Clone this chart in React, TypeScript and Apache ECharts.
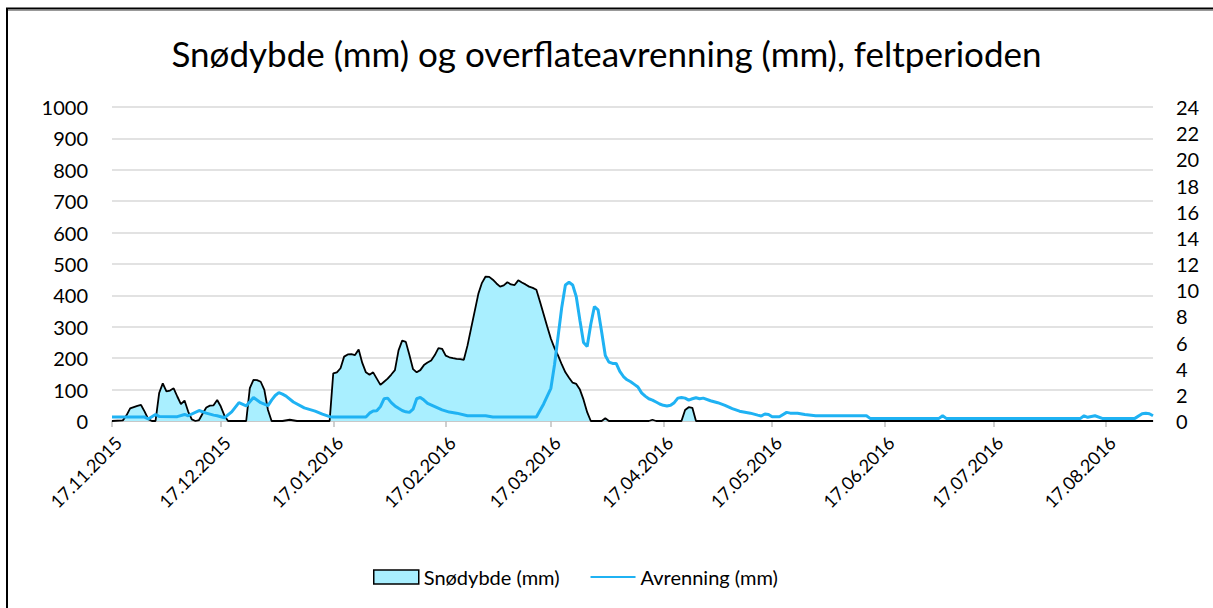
import React, { useEffect, useRef } from "react";
import * as echarts from "echarts";

const TITLE = "Snødybde (mm) og overflateavrenning (mm), feltperioden";
const SNOW_NAME = "Snødybde (mm)";
const RUNOFF_NAME = "Avrenning (mm)";

const FIRST_DAY = "17.11.2015";
const LAST_DAY = "30.08.2016";

const leftTicks = { min: 0, max: 1000, interval: 100 };
const rightTicks = { min: 0, max: 24, interval: 2 };

const snowDepth: [string, number][] = [
  ["17.11.2015", 0], ["20.11.2015", 2], ["21.11.2015", 18], ["22.11.2015", 40], ["24.11.2015", 48],
  ["25.11.2015", 51], ["26.11.2015", 30], ["27.11.2015", 6], ["28.11.2015", 0], ["29.11.2015", 0],
  ["30.11.2015", 89], ["01.12.2015", 120], ["02.12.2015", 94], ["03.12.2015", 97], ["04.12.2015", 104],
  ["05.12.2015", 78], ["06.12.2015", 54], ["07.12.2015", 65], ["08.12.2015", 30], ["09.12.2015", 5],
  ["10.12.2015", 0], ["11.12.2015", 3], ["12.12.2015", 24], ["13.12.2015", 43], ["14.12.2015", 49],
  ["15.12.2015", 50], ["16.12.2015", 67], ["17.12.2015", 46], ["18.12.2015", 17], ["19.12.2015", 0],
  ["24.12.2015", 0], ["25.12.2015", 105], ["26.12.2015", 131], ["27.12.2015", 130], ["28.12.2015", 125],
  ["29.12.2015", 99], ["30.12.2015", 35], ["31.12.2015", 0], ["03.01.2016", 0], ["05.01.2016", 4],
  ["07.01.2016", 0], ["16.01.2016", 0], ["17.01.2016", 152], ["18.01.2016", 155], ["19.01.2016", 168],
  ["20.01.2016", 205], ["21.01.2016", 212], ["22.01.2016", 213], ["23.01.2016", 210], ["24.01.2016", 228],
  ["25.01.2016", 185], ["26.01.2016", 155], ["27.01.2016", 147], ["28.01.2016", 155], ["29.01.2016", 135],
  ["30.01.2016", 115], ["31.01.2016", 125], ["01.02.2016", 135], ["02.02.2016", 148], ["03.02.2016", 162],
  ["04.02.2016", 225], ["05.02.2016", 256], ["06.02.2016", 252], ["07.02.2016", 210], ["08.02.2016", 165],
  ["09.02.2016", 155], ["10.02.2016", 162], ["11.02.2016", 178], ["12.02.2016", 186], ["13.02.2016", 193],
  ["14.02.2016", 210], ["15.02.2016", 232], ["16.02.2016", 230], ["17.02.2016", 208], ["18.02.2016", 203],
  ["19.02.2016", 200], ["20.02.2016", 198], ["21.02.2016", 197], ["22.02.2016", 195], ["23.02.2016", 240],
  ["24.02.2016", 295], ["25.02.2016", 350], ["26.02.2016", 405], ["27.02.2016", 440], ["28.02.2016", 460],
  ["29.02.2016", 459], ["01.03.2016", 450], ["02.03.2016", 438], ["03.03.2016", 428], ["04.03.2016", 432],
  ["05.03.2016", 442], ["06.03.2016", 435], ["07.03.2016", 433], ["08.03.2016", 448], ["09.03.2016", 441],
  ["10.03.2016", 435], ["11.03.2016", 428], ["12.03.2016", 424], ["13.03.2016", 418], ["14.03.2016", 380],
  ["15.03.2016", 340], ["16.03.2016", 300], ["17.03.2016", 262], ["18.03.2016", 232], ["19.03.2016", 208],
  ["20.03.2016", 180], ["21.03.2016", 155], ["22.03.2016", 138], ["23.03.2016", 122], ["24.03.2016", 118],
  ["25.03.2016", 100], ["26.03.2016", 68], ["27.03.2016", 28], ["28.03.2016", 0], ["31.03.2016", 0],
  ["01.04.2016", 9], ["02.04.2016", 0], ["13.04.2016", 0], ["14.04.2016", 4], ["15.04.2016", 0],
  ["22.04.2016", 0], ["23.04.2016", 35], ["24.04.2016", 44], ["25.04.2016", 42], ["26.04.2016", 0],
  ["30.08.2016", 0],
];

const runoff: [string, number][] = [
  ["17.11.2015", 0.3], ["26.11.2015", 0.3], ["27.11.2015", 0.15], ["29.11.2015", 0.5], ["30.11.2015", 0.35],
  ["05.12.2015", 0.33], ["07.12.2015", 0.5], ["08.12.2015", 0.4], ["11.12.2015", 0.8], ["13.12.2015", 0.6],
  ["15.12.2015", 0.45], ["16.12.2015", 0.4], ["18.12.2015", 0.25], ["20.12.2015", 0.7], ["22.12.2015", 1.4],
  ["24.12.2015", 1.15], ["26.12.2015", 1.8], ["28.12.2015", 1.4], ["30.12.2015", 1.17], ["31.12.2015", 1.6],
  ["01.01.2016", 1.95], ["02.01.2016", 2.17], ["03.01.2016", 2.05], ["04.01.2016", 1.9], ["06.01.2016", 1.45],
  ["09.01.2016", 1.0], ["12.01.2016", 0.75], ["14.01.2016", 0.52], ["16.01.2016", 0.33], ["17.01.2016", 0.3],
  ["26.01.2016", 0.3], ["27.01.2016", 0.6], ["28.01.2016", 0.77], ["29.01.2016", 0.78], ["30.01.2016", 1.1],
  ["31.01.2016", 1.7], ["01.02.2016", 1.75], ["02.02.2016", 1.4], ["03.02.2016", 1.15], ["04.02.2016", 0.97],
  ["05.02.2016", 0.8], ["06.02.2016", 0.7], ["07.02.2016", 0.66], ["08.02.2016", 0.9], ["09.02.2016", 1.7],
  ["10.02.2016", 1.8], ["11.02.2016", 1.6], ["12.02.2016", 1.35], ["14.02.2016", 1.1], ["16.02.2016", 0.85],
  ["18.02.2016", 0.68], ["20.02.2016", 0.6], ["23.02.2016", 0.4], ["28.02.2016", 0.4], ["01.03.2016", 0.3],
  ["13.03.2016", 0.3], ["14.03.2016", 0.8], ["15.03.2016", 1.3], ["16.03.2016", 1.9], ["17.03.2016", 2.5],
  ["18.03.2016", 4.3], ["19.03.2016", 6.5], ["20.03.2016", 8.7], ["21.03.2016", 10.4], ["22.03.2016", 10.6],
  ["23.03.2016", 10.4], ["24.03.2016", 9.5], ["25.03.2016", 7.7], ["26.03.2016", 6.0], ["27.03.2016", 5.7],
  ["28.03.2016", 7.4], ["29.03.2016", 8.75], ["30.03.2016", 8.5], ["31.03.2016", 6.8], ["01.04.2016", 5.0],
  ["02.04.2016", 4.5], ["03.04.2016", 4.4], ["04.04.2016", 4.4], ["05.04.2016", 3.8], ["06.04.2016", 3.4],
  ["07.04.2016", 3.15], ["08.04.2016", 3.0], ["09.04.2016", 2.8], ["10.04.2016", 2.6], ["11.04.2016", 2.15],
  ["12.04.2016", 1.9], ["13.04.2016", 1.7], ["14.04.2016", 1.6], ["15.04.2016", 1.45], ["16.04.2016", 1.3],
  ["17.04.2016", 1.2], ["18.04.2016", 1.15], ["19.04.2016", 1.2], ["20.04.2016", 1.4], ["21.04.2016", 1.75],
  ["22.04.2016", 1.8], ["23.04.2016", 1.75], ["24.04.2016", 1.6], ["25.04.2016", 1.7], ["26.04.2016", 1.78],
  ["27.04.2016", 1.7], ["28.04.2016", 1.75], ["30.04.2016", 1.55], ["02.05.2016", 1.4], ["04.05.2016", 1.2],
  ["06.05.2016", 0.95], ["08.05.2016", 0.75], ["11.05.2016", 0.6], ["13.05.2016", 0.45], ["14.05.2016", 0.38],
  ["15.05.2016", 0.54], ["16.05.2016", 0.5], ["17.05.2016", 0.33], ["19.05.2016", 0.33], ["21.05.2016", 0.66],
  ["22.05.2016", 0.6], ["24.05.2016", 0.6], ["26.05.2016", 0.5], ["29.05.2016", 0.4], ["12.06.2016", 0.4],
  ["13.06.2016", 0.2], ["02.07.2016", 0.2], ["03.07.2016", 0.4], ["04.07.2016", 0.2], ["10.08.2016", 0.2],
  ["11.08.2016", 0.4], ["12.08.2016", 0.28], ["14.08.2016", 0.4], ["16.08.2016", 0.2], ["25.08.2016", 0.2],
  ["27.08.2016", 0.55], ["28.08.2016", 0.6], ["29.08.2016", 0.55], ["30.08.2016", 0.4],
];

function parseDay(s: string): Date {
  const [d, m, y] = s.split(".").map(Number);
  return new Date(y, m - 1, d);
}
function fmt(dt: Date): string {
  const dd = String(dt.getDate()).padStart(2, "0");
  const mm = String(dt.getMonth() + 1).padStart(2, "0");
  return `${dd}.${mm}.${dt.getFullYear()}`;
}
function buildDays(): string[] {
  const out: string[] = [];
  const end = parseDay(LAST_DAY).getTime();
  for (let d = parseDay(FIRST_DAY); d.getTime() <= end; d = new Date(d.getFullYear(), d.getMonth(), d.getDate() + 1)) {
    out.push(fmt(d));
  }
  return out;
}

const FONT = "Lato, 'Open Sans', sans-serif";
const SNOW_FILL = "#A9EFFF";
const RUNOFF_COLOR = "#1FB2F3";
const LABEL_SIZE = 20;

export default function App() {
  const ref = useRef<HTMLDivElement>(null);
  useEffect(() => {
    if (!ref.current) return;
    const chart = echarts.init(ref.current, undefined, { renderer: "svg" });
    const days = buildDays();
    const isLabelDay = (_i: number, v: string) => v.startsWith("17.");
    chart.setOption({
      animation: false,
      backgroundColor: "#fff",
      title: {
        text: TITLE,
        left: "center",
        top: 30,
        textStyle: { fontFamily: FONT, fontSize: 35, fontWeight: "normal", color: "#000" },
      },
      graphic: [
        {
          type: "line",
          shape: { x1: 6, y1: 8.5, x2: 1230, y2: 8.5 },
          style: { stroke: "#000", lineWidth: 2 },
          silent: true,
        },
        {
          type: "line",
          shape: { x1: 8, y1: 10.5, x2: 1230, y2: 10.5 },
          style: { stroke: "#999", lineWidth: 1 },
          silent: true,
        },
        {
          type: "line",
          shape: { x1: 7, y1: 8, x2: 7, y2: 620 },
          style: { stroke: "#000", lineWidth: 2 },
          silent: true,
        },
      ],
      legend: {
        top: 562,
        left: 368,
        itemWidth: 45,
        itemHeight: 14,
        itemGap: 30,
        textStyle: { fontFamily: FONT, fontSize: LABEL_SIZE, color: "#000" },
        data: [
          { name: SNOW_NAME, icon: "rect", itemStyle: { color: SNOW_FILL, borderColor: "#000", borderWidth: 1.5 } },
          { name: RUNOFF_NAME, itemStyle: { opacity: 0 } },
        ],
      },
      grid: { left: 112, right: 60, top: 107, bottom: 187 },
      xAxis: {
        type: "category",
        data: days,
        boundaryGap: false,
        axisLine: { lineStyle: { color: "#BFBFBF", width: 1.5 } },
        axisTick: { interval: isLabelDay, length: 6, lineStyle: { color: "#BFBFBF", width: 1.5 } },
        axisLabel: {
          interval: isLabelDay,
          rotate: 45,
          margin: 12,
          verticalAlign: "top",
          fontFamily: FONT,
          fontSize: 18,
          color: "#000",
        },
        splitLine: { show: false },
      },
      yAxis: [
        {
          type: "value",
          ...leftTicks,
          axisLine: { show: false },
          axisTick: { show: false },
          axisLabel: { margin: 24, fontFamily: FONT, fontSize: LABEL_SIZE, color: "#000", formatter: (v: number) => String(v) },
          splitLine: { lineStyle: { color: "#D9D9D9", width: 1.5 } },
        },
        {
          type: "value",
          ...rightTicks,
          position: "right",
          axisLine: { show: false },
          axisTick: { show: false },
          axisLabel: { margin: 23, fontFamily: FONT, fontSize: LABEL_SIZE, color: "#000", formatter: (v: number) => String(v) },
          splitLine: { show: false },
        },
      ],
      series: [
        {
          name: SNOW_NAME,
          type: "line",
          yAxisIndex: 0,
          data: snowDepth,
          symbol: "none",
          lineStyle: { color: "#000", width: 1.8 },
          itemStyle: { color: SNOW_FILL, borderColor: "#000" },
          areaStyle: { color: SNOW_FILL, opacity: 1 },
          z: 2,
        },
        {
          name: RUNOFF_NAME,
          type: "line",
          yAxisIndex: 1,
          data: runoff,
          symbol: "none",
          lineStyle: { color: RUNOFF_COLOR, width: 3 },
          itemStyle: { color: RUNOFF_COLOR },
          z: 3,
        },
      ],
    });
    return () => chart.dispose();
  }, []);
  return (
    <div
      ref={ref}
      style={{ position: "fixed", left: 0, top: 0, width: 1213, height: 608, background: "#fff" }}
    />
  );
}
